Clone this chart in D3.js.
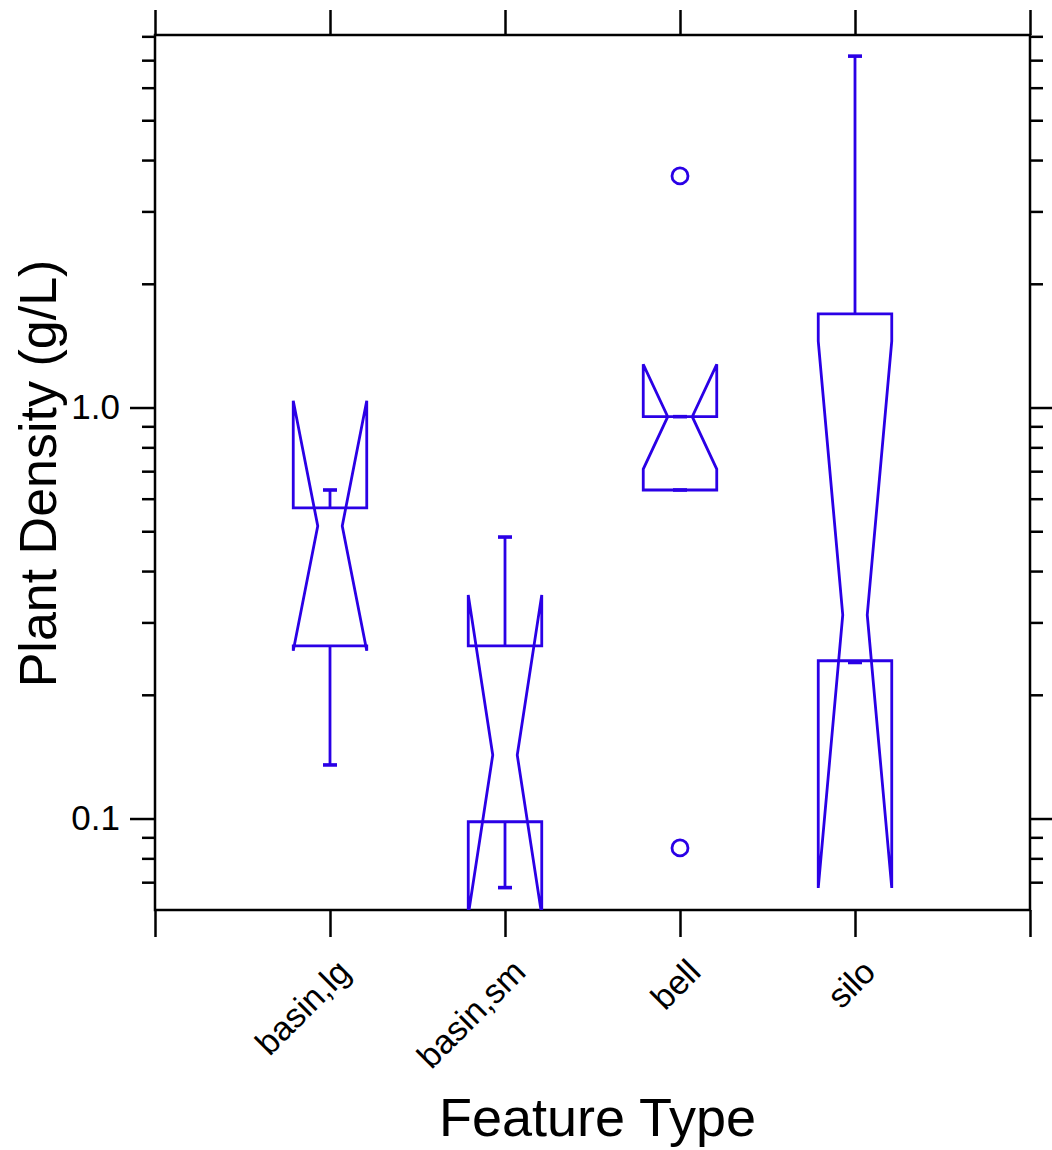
<!DOCTYPE html>
<html>
<head>
<meta charset="utf-8">
<script src="https://cdn.jsdelivr.net/npm/d3@7"></script>
<style>
  body { margin: 0; background: #fff; }
  svg { font-family: "Liberation Sans", Arial, sans-serif; }
  .axis path.domain { display: none; }
  .axis line { stroke: #000; stroke-width: 2.5; }
  .axis text { fill: #000; }
</style>
</head>
<body>
<svg width="1052" height="1150"></svg>
<script>
// box stats (g/L, log axis)
const categories = ['basin,lg', 'basin,sm', 'bell', 'silo'];
const whiskerLow  = [0.135, 0.0679, 0.630, 0.2397];
const q1          = [0.263, 0.0982, 0.630, 0.242];
const median      = [0.515, 0.1427, 0.950, 0.3128];
const q3          = [0.570, 0.263, 0.950, 1.689];
const whiskerHigh = [0.630, 0.484, 0.950, 7.16];
const notchLow    = [0.256, 0.0582, 0.708, 0.0678];
const notchHigh   = [1.039, 0.350, 1.274, 1.451];
const outliers    = [[], [], [3.66, 0.0848], []];

const majorTicks = [0.1, 1];
const minorTicks = [0.07, 0.08, 0.09, 0.2, 0.3, 0.4, 0.5, 0.6, 0.7, 0.8, 0.9, 2, 3, 4, 5, 6, 7, 8];

const [plotL, plotR, plotT, plotB] = [155, 1030, 35, 910];
const blue = '#2a00e6';

const svg = d3.select('svg');

const x = d3.scaleLinear().domain([0, 5]).range([plotL, plotR]);
const y = d3.scaleLog().domain([0.0599, 8.06]).range([plotB, plotT]);

// y axes, left with labels, right without
svg.append('g').attr('class', 'axis')
  .attr('transform', `translate(${plotL},0)`)
  .call(d3.axisLeft(y).tickValues(majorTicks).tickSize(25).tickPadding(10)
    .tickFormat(d3.format('.1f')))
  .selectAll('text').attr('font-size', 35);

svg.append('g').attr('class', 'axis')
  .attr('transform', `translate(${plotL},0)`)
  .call(d3.axisLeft(y).tickValues(minorTicks).tickSize(13).tickFormat(''));

svg.append('g').attr('class', 'axis')
  .attr('transform', `translate(${plotR},0)`)
  .call(d3.axisRight(y).tickValues(majorTicks).tickSize(25).tickFormat(''));

svg.append('g').attr('class', 'axis')
  .attr('transform', `translate(${plotR},0)`)
  .call(d3.axisRight(y).tickValues(minorTicks).tickSize(13).tickFormat(''));

// x axes
const xTicks = [0, 1, 2, 3, 4, 5];

svg.append('g').attr('class', 'axis')
  .attr('transform', `translate(0,${plotT})`)
  .call(d3.axisTop(x).tickValues(xTicks).tickSize(25).tickFormat(''));

const xAxis = svg.append('g').attr('class', 'axis')
  .attr('transform', `translate(0,${plotB})`)
  .call(d3.axisBottom(x).tickValues(xTicks).tickSize(27)
    .tickFormat(d => categories[d - 1] || ''));

xAxis.selectAll('text')
  .attr('font-size', 34)
  .attr('text-anchor', 'end')
  .attr('dy', null)
  .attr('y', null)
  .attr('transform', 'translate(22,64) rotate(-45)');

// frame
svg.append('rect')
  .attr('x', plotL).attr('y', plotT)
  .attr('width', plotR - plotL).attr('height', plotB - plotT)
  .attr('fill', 'none').attr('stroke', '#000').attr('stroke-width', 2.5);

svg.append('clipPath').attr('id', 'plot')
  .append('rect')
  .attr('x', plotL).attr('y', plotT)
  .attr('width', plotR - plotL).attr('height', plotB - plotT);

const panel = svg.append('g').attr('clip-path', 'url(#plot)');

const boxHalf = 0.21;
const notchHalf = 0.07;
const capHalf = 0.04;

categories.forEach((c, i) => {
  const cx = i + 1;
  const g = panel.append('g')
    .attr('fill', 'none')
    .attr('stroke', blue)
    .attr('stroke-width', 2.8);

  // notched box outline
  const pts = [
    [cx - boxHalf, q1[i]],
    [cx - boxHalf, notchLow[i]],
    [cx - notchHalf, median[i]],
    [cx - boxHalf, notchHigh[i]],
    [cx - boxHalf, q3[i]],
    [cx + boxHalf, q3[i]],
    [cx + boxHalf, notchHigh[i]],
    [cx + notchHalf, median[i]],
    [cx + boxHalf, notchLow[i]],
    [cx + boxHalf, q1[i]]
  ];
  g.append('polygon')
    .attr('points', pts.map(p => [x(p[0]), y(p[1])].join(',')).join(' '))
    .attr('stroke-linejoin', 'miter');

  // whiskers and caps
  [[q3[i], whiskerHigh[i]], [q1[i], whiskerLow[i]]].forEach(([from, to]) => {
    g.append('line')
      .attr('x1', x(cx)).attr('x2', x(cx))
      .attr('y1', y(from)).attr('y2', y(to));
    g.append('line')
      .attr('x1', x(cx - capHalf)).attr('x2', x(cx + capHalf))
      .attr('y1', y(to)).attr('y2', y(to))
      .attr('stroke-width', 3.6);
  });

  g.selectAll('circle')
    .data(outliers[i])
    .enter()
    .append('circle')
    .attr('cx', x(cx))
    .attr('cy', d => y(d))
    .attr('r', 8);
});

// axis titles
svg.append('text')
  .attr('x', (plotL + plotR) / 2 + 5)
  .attr('y', 1136)
  .attr('text-anchor', 'middle')
  .attr('font-size', 54)
  .text('Feature Type');

svg.append('text')
  .attr('transform', `translate(56,${(plotT + plotB) / 2 + 1}) rotate(-90)`)
  .attr('text-anchor', 'middle')
  .attr('font-size', 52)
  .text('Plant Density (g/L)');
</script>
</body>
</html>
